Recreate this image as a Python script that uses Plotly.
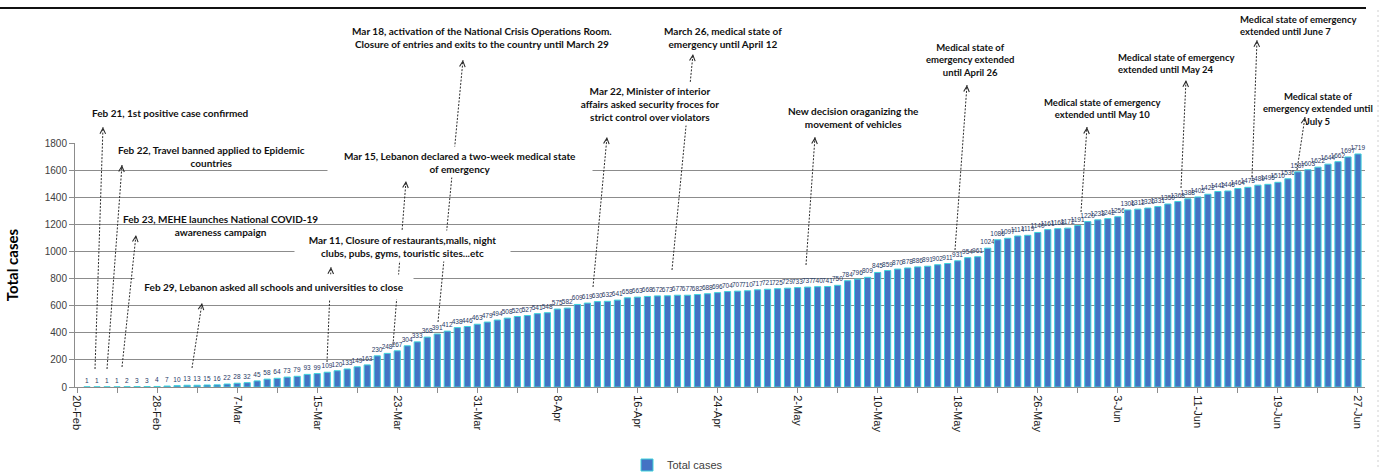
import plotly.graph_objects as go
import pandas as pd

# ---------------- data ----------------
dates = pd.date_range("2020-02-21", "2020-06-27", freq="D").strftime("%Y-%m-%d").tolist()
total_cases = [
    1, 1, 1, 1, 2, 3, 3, 4, 7,
    10, 13, 13, 15, 16, 22, 28, 32, 45, 58, 64, 73, 79, 93, 99, 109, 120, 133, 149, 163,
    230, 248, 267, 304, 333, 368, 391, 412, 438, 446, 463,
    479, 494, 508, 520, 527, 541, 548, 575, 582, 609, 619, 630, 632, 641, 658, 663, 668, 672,
    673, 677, 677, 682, 688, 696, 704, 707, 710, 717, 721, 725,
    729, 733, 737, 740, 741, 750, 784, 796, 809, 845, 859, 870, 878, 886, 891, 902, 911, 931,
    954, 961, 1024, 1086, 1097, 1114, 1119, 1140, 1161, 1168, 1172, 1191, 1220,
    1233, 1242, 1256, 1306, 1312, 1320, 1331, 1350, 1368, 1388, 1402, 1422, 1442, 1446, 1464,
    1473, 1489, 1495, 1510, 1536, 1587, 1603, 1622, 1644, 1662, 1697, 1719,
]
assert len(dates) == len(total_cases)

y_ticks = [0, 200, 400, 600, 800, 1000, 1200, 1400, 1600, 1800]
series_name = "Total cases"
y_title = "Total cases"

# event notes: text
note_texts = [
    "Feb 21, 1st positive case confirmed",
    "Feb 22, Travel banned applied to Epidemic<br>countries",
    "Feb 23, MEHE launches National COVID-19<br>awareness campaign",
    "Feb 29, Lebanon asked all schools and universities to close",
    "Mar 11, Closure of restaurants,malls, night<br>clubs, pubs, gyms, touristic sites...etc",
    "Mar 15, Lebanon declared a two-week medical state<br>of emergency",
    "Mar 18, activation of the National Crisis Operations Room.<br>Closure of entries and exits to the country until March 29",
    "March 26, medical state of<br>emergency until April 12",
    "Mar 22, Minister of interior<br>affairs asked security froces for<br>strict control over violators",
    "New decision oraganizing the<br>movement of vehicles",
    "Medical state of<br>emergency extended<br>until April 26",
    "Medical state of emergency<br>extended until May 10",
    "Medical state of emergency<br>extended until May 24",
    "Medical state of emergency<br>extended until June 7",
    "Medical state of<br>emergency extended until<br>July 5",
]

# ---------------- layout geometry (pixels in the 1386x473 page) ----------------
W, H = 1386, 473
PL, PR, PT, PB = 75, 1365, 143, 387


def pxx(px):
    return (px - PL) / (PR - PL)


def pxy(py):
    return (PB - py) / (PB - PT)


# note placement: (center x, center y, align, font size, box width or None, box height)
note_pos = [
    (170, 113, "center", 10, None, None),
    (211, 156, "center", 10, None, None),
    (220, 225, "center", 10, None, None),
    (274, 287, "center", 10, 278, 24),
    (402, 246, "center", 10, 215, 30),
    (460, 162, "center", 10, 264, 30),
    (482, 37, "center", 10, None, None),
    (723, 37, "center", 10, None, None),
    (650, 104, "center", 10, 156, 42),
    (853, 118, "center", 10, None, None),
    (970, 60, "center", 9.5, None, None),
    (1102, 108, "center", 9.5, None, None),
    (1176, 63, "left", 9.5, None, None),
    (1298, 25, "left", 9.5, None, None),
    (1318, 109, "center", 9.5, None, None),
]

# dashed arrows: (tail x, tail y, head x, head y)
arrows = [
    (95, 369, 103, 127),
    (107, 369, 122, 165),
    (122, 367, 136, 235),
    (192, 368, 202, 303),
    (327, 362, 331, 267),
    (393, 345, 406, 181),
    (438, 322, 463, 60),
    (593, 287, 607, 137),
    (672, 270, 693, 54),
    (806, 265, 815, 137),
    (955, 250, 967, 85),
    (1081, 212, 1087, 127),
    (1181, 188, 1186, 80),
    (1252, 177, 1257, 40),
    (1297, 170, 1305, 117),
]

fig = go.Figure()
fig.add_trace(go.Bar(
    x=dates, y=total_cases, name=series_name,
    width=0.62 * 86400000,
    marker=dict(color="#4472C4", line=dict(color="#3FD3DC", width=1)),
    text=total_cases, texttemplate="%{text}", textposition="outside",
    textangle=0, constraintext="none", cliponaxis=False,
    textfont=dict(family="Liberation Sans", size=6.5, color="#1F3864"),
    showlegend=True,
))

shapes = []
annotations = []
for (tx, ty, hx, hy) in arrows:
    shapes.append(dict(type="line", xref="paper", yref="paper",
                       x0=pxx(tx), y0=pxy(ty), x1=pxx(hx), y1=pxy(hy),
                       line=dict(color="#2b2b2b", width=1, dash="2px,1.5px")))
    dx, dy = tx - hx, ty - hy
    n = (dx * dx + dy * dy) ** 0.5
    annotations.append(dict(xref="paper", yref="paper", x=pxx(hx), y=pxy(hy),
                            ax=dx / n * 5, ay=dy / n * 5, text="", showarrow=True,
                            arrowhead=5, arrowsize=1.1, arrowwidth=1, arrowcolor="#2b2b2b",
                            standoff=0, startstandoff=0))

for txt, (cx, cy, al, fs, bw, bh) in zip(note_texts, note_pos):
    a = dict(xref="paper", yref="paper", x=pxx(cx), y=pxy(cy), text=txt,
             showarrow=False, xanchor="center", yanchor="middle", align=al,
             font=dict(family="Lato", size=fs, color="#111111", weight="bold"))
    if bw:
        a.update(bgcolor="white", width=bw, height=bh, borderpad=0)
    annotations.append(a)

# frame line on top of the page and faint right border
shapes.append(dict(type="line", xref="paper", yref="paper",
                   x0=pxx(0), x1=pxx(1366), y0=pxy(8), y1=pxy(8),
                   line=dict(color="#111111", width=2)))
shapes.append(dict(type="line", xref="paper", yref="paper",
                   x0=pxx(1378), x1=pxx(1378), y0=pxy(10), y1=pxy(470),
                   line=dict(color="#d0d0d0", width=1, dash="2px,3px")))

fig.update_layout(
    width=W, height=H,
    margin=dict(l=PL, r=W - PR, t=PT, b=H - PB, pad=0, autoexpand=False),
    paper_bgcolor="white", plot_bgcolor="white",
    shapes=shapes, annotations=annotations,
    legend=dict(orientation="h", x=pxx(627), y=pxy(465), xanchor="left", yanchor="middle",
                font=dict(family="Liberation Sans", size=11, color="#404040"),
                itemwidth=30, bgcolor="rgba(0,0,0,0)"),
    xaxis=dict(
        type="date",
        range=["2020-02-19 19:12", "2020-06-27 16:48"],
        tick0="2020-02-20", dtick=8 * 86400000, tickformat="%-d-%b",
        tickangle=90, ticks="outside", ticklen=5, tickcolor="#8c8c8c",
        minor=dict(tick0="2020-02-20", dtick=4 * 86400000, ticks="outside", ticklen=5,
                   tickcolor="#8c8c8c", showgrid=False),
        showline=True, linecolor="#8c8c8c", linewidth=1,
        showgrid=False, zeroline=False, automargin=False,
        tickfont=dict(family="Liberation Sans", size=11, color="#1a1a1a"),
    ),
    yaxis=dict(
        range=[0, 1800], tickvals=y_ticks,
        showgrid=True, gridcolor="#8c8c8c", gridwidth=1,
        showline=True, linecolor="#8c8c8c", linewidth=1,
        ticks="outside", ticklen=5, tickcolor="#8c8c8c",
        zeroline=False, automargin=False,
        tickfont=dict(family="Liberation Sans", size=10, color="#404040"),
        title=dict(text=y_title, standoff=22,
                   font=dict(family="Lato", size=15, color="#000000", weight="bold")),
    ),
)

fig.write_html(
    "out.html",
    config={"displayModeBar": False},
    post_script="document.body.style.margin='0';document.body.style.overflow='hidden';",
)
